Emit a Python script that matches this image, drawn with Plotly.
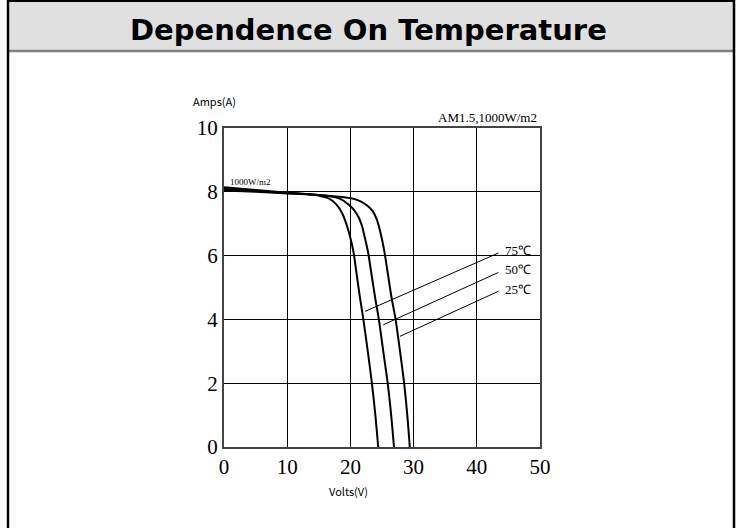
import plotly.graph_objects as go

# ---- data ----
v_75 = [0, 5, 10, 13, 15, 16.5, 17.8, 18.7, 19.4, 20.0, 20.5, 21.0, 21.5, 22.05, 22.75, 23.4, 23.95, 24.4]
i_75 = [8.14, 8.06, 7.97, 7.93, 7.88, 7.8, 7.6, 7.33, 6.97, 6.55, 6.1, 5.4, 4.7, 4.0, 3.0, 2.0, 1.0, 0.0]

v_50 = [0, 5, 10, 13, 15, 17, 18.4, 19.6, 20.5, 21.3, 21.8, 22.3, 22.8, 23.35, 23.9, 24.5, 25.2, 25.9, 26.45, 26.9]
i_50 = [8.09, 8.03, 7.96, 7.93, 7.9, 7.85, 7.78, 7.62, 7.45, 7.2, 6.95, 6.55, 6.1, 5.4, 4.7, 4.0, 3.0, 2.0, 1.0, 0.0]

v_25 = [0, 5, 10, 13, 15, 17, 19, 20.5, 21.6, 22.6, 23.5, 24.2, 24.9, 25.4, 25.95, 26.5, 27.15, 27.85, 28.5, 29.0, 29.4]
i_25 = [8.04, 8.0, 7.95, 7.92, 7.9, 7.87, 7.83, 7.78, 7.7, 7.58, 7.4, 7.12, 6.6, 6.1, 5.4, 4.7, 4.0, 3.0, 2.0, 1.0, 0.0]

temp_labels = ["75℃", "50℃", "25℃"]
label_v = [44.2, 44.2, 44.2]
label_i = [6.17, 5.55, 4.95]
leader_start_v = [43.4, 43.4, 43.4]
leader_start_i = [6.08, 5.47, 4.88]
leader_end_v = [22.3, 25.2, 27.85]
leader_end_i = [4.25, 3.83, 3.47]

x_ticks = [0, 10, 20, 30, 40, 50]
y_ticks = [0, 2, 4, 6, 8, 10]

title_text = "Dependence On Temperature"
x_title = "Volts(V)"
y_title = "Amps(A)"
condition_text = "AM1.5,1000W/m2"
irr_text = "1000W/m2"

# ---- layout geometry (pixels) ----
W, H = 739, 528
PL, PR, PT, PB = 224, 540, 128, 447
def px(x):
    return (x - PL) / (PR - PL)
def py(y):
    return (PB - y) / (PB - PT)

fig = go.Figure()
for v, i in [(v_75, i_75), (v_50, i_50), (v_25, i_25)]:
    fig.add_trace(go.Scatter(x=v, y=i, mode="lines",
                             line=dict(color="black", width=2, shape="spline", smoothing=0.8),
                             showlegend=False, hoverinfo="skip"))

for k in range(3):
    fig.add_trace(go.Scatter(x=[leader_start_v[k], leader_end_v[k]],
                             y=[leader_start_i[k], leader_end_i[k]],
                             mode="lines", line=dict(color="black", width=1),
                             showlegend=False, hoverinfo="skip"))

serif = "Liberation Serif, Times New Roman, serif"
sans = "Noto Sans CJK JP, Liberation Sans, sans-serif"

annotations = []
for k in range(3):
    annotations.append(dict(x=label_v[k], y=label_i[k], xref="x", yref="y",
                            text=temp_labels[k], showarrow=False, xanchor="left", yanchor="middle",
                            font=dict(family=serif, size=13, color="black")))
annotations.append(dict(x=0.6, y=8.08, xref="x", yref="y", text=irr_text, showarrow=False,
                        xanchor="left", yanchor="bottom", font=dict(family=serif, size=9, color="black")))
annotations.append(dict(x=49.9, y=10.0, xref="x", yref="y", text=condition_text, showarrow=False,
                        xanchor="right", yanchor="bottom", yshift=1,
                        font=dict(family=serif, size=13, color="black")))
annotations.append(dict(x=px(214), y=py(101), xref="paper", yref="paper", text=y_title, showarrow=False,
                        xanchor="center", yanchor="middle", font=dict(family=sans, size=11, color="black")))
annotations.append(dict(x=px(348), y=py(491), xref="paper", yref="paper", text=x_title, showarrow=False,
                        xanchor="center", yanchor="middle", font=dict(family=sans, size=11, color="black")))
annotations.append(dict(x=px(368), y=py(30), xref="paper", yref="paper", text="<b>" + title_text + "</b>",
                        showarrow=False, xanchor="center", yanchor="middle",
                        font=dict(family="DejaVu Sans, Liberation Sans, sans-serif", size=29, color="black")))

shapes = [
    dict(type="rect", xref="paper", yref="paper", x0=px(8), x1=px(734), y0=py(1), y1=py(51),
         fillcolor="#e0e0e0", line=dict(width=0), layer="below"),
    dict(type="line", xref="paper", yref="paper", x0=px(8), x1=px(734), y0=py(51), y1=py(51),
         line=dict(color="#808080", width=2.5)),
    dict(type="line", xref="paper", yref="paper", x0=px(8), x1=px(8), y0=py(0), y1=py(530),
         line=dict(color="black", width=2.5)),
    dict(type="line", xref="paper", yref="paper", x0=px(734), x1=px(734), y0=py(0), y1=py(530),
         line=dict(color="black", width=2.5)),
    dict(type="line", xref="paper", yref="paper", x0=px(8), x1=px(734), y0=py(1), y1=py(1),
         line=dict(color="black", width=2)),
]

axis_common = dict(showgrid=True, gridcolor="black", gridwidth=1.4, zeroline=False,
                   showline=True, linecolor="#444444", linewidth=2, mirror=True,
                   ticks="", tickfont=dict(family=serif, size=21, color="black"))

fig.update_layout(
    width=W, height=H,
    margin=dict(l=PL, r=W - PR, t=PT, b=H - PB),
    paper_bgcolor="white", plot_bgcolor="white",
    xaxis=dict(range=[0, 50], tickvals=x_ticks, ticktext=[str(t) for t in x_ticks], **axis_common),
    yaxis=dict(range=[0, 10], tickvals=y_ticks, ticktext=[str(t) for t in y_ticks], **axis_common),
    annotations=annotations, shapes=shapes, showlegend=False,
)

fig.write_html("out.html", config={"displayModeBar": False},
               post_script="document.body.style.margin='0';document.body.style.overflow='hidden';")
